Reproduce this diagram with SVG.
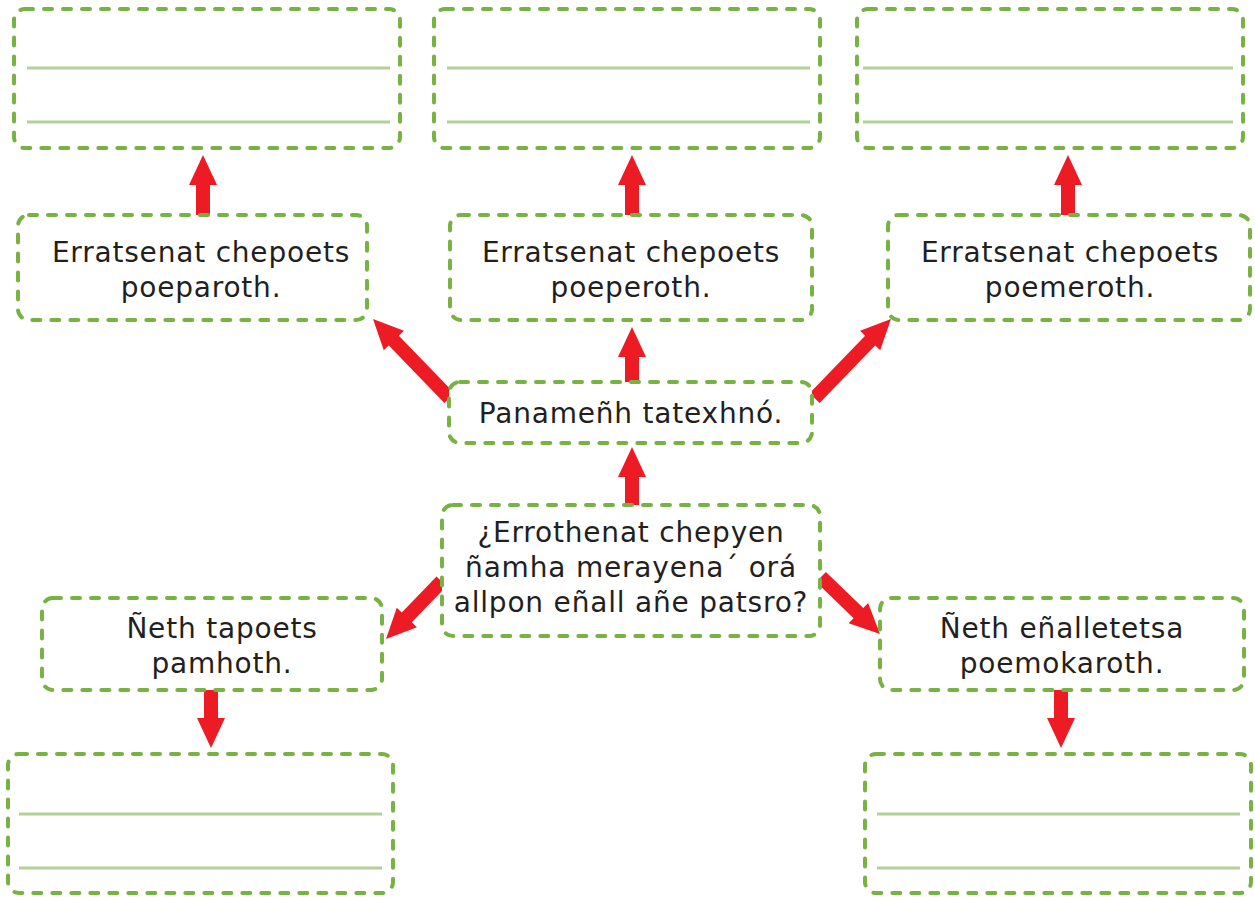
<svg xmlns="http://www.w3.org/2000/svg" width="1255" height="897" viewBox="0 0 1255 897">
<style>
.box{fill:#ffffff;stroke:#77b243;stroke-width:4;stroke-dasharray:8 11;stroke-linecap:round;}
.rule{stroke:#b3d197;stroke-width:3;}
.arr{fill:#ed1c24;}
.t{font-family:"DejaVu Sans",sans-serif;font-size:28px;fill:#231f20;text-anchor:middle;letter-spacing:0.8px;}
</style>
<rect width="1255" height="897" fill="#ffffff"/>
<g id="connectors">
<path class="arr" transform="translate(203,155)" d="M0,0 L14,30 L7,30 L7,60 L-7,60 L-7,30 L-14,30 Z"/>
<path class="arr" transform="translate(632,155)" d="M0,0 L14,30 L7,30 L7,60 L-7,60 L-7,30 L-14,30 Z"/>
<path class="arr" transform="translate(1068,155)" d="M0,0 L14,30 L7,30 L7,60 L-7,60 L-7,30 L-14,30 Z"/>
<path class="arr" transform="translate(632,327)" d="M0,0 L14,30 L7,30 L7,56 L-7,56 L-7,30 L-14,30 Z"/>
<path class="arr" transform="translate(632,447)" d="M0,0 L14,30 L7,30 L7,59 L-7,59 L-7,30 L-14,30 Z"/>
<path class="arr" transform="translate(211,748) rotate(180)" d="M0,0 L14,30 L7,30 L7,59 L-7,59 L-7,30 L-14,30 Z"/>
<path class="arr" transform="translate(1061,748) rotate(180)" d="M0,0 L14,30 L7,30 L7,59 L-7,59 L-7,30 L-14,30 Z"/>
<path class="arr" transform="translate(373,319) rotate(-44)" d="M0,0 L14,30 L7,30 L7,110 L-7,110 L-7,30 L-14,30 Z"/>
<path class="arr" transform="translate(891,319) rotate(44)" d="M0,0 L14,30 L7,30 L7,110 L-7,110 L-7,30 L-14,30 Z"/>
<path class="arr" transform="translate(386,639) rotate(-136)" d="M0,0 L14,30 L7,30 L7,80 L-7,80 L-7,30 L-14,30 Z"/>
<path class="arr" transform="translate(880,634) rotate(134)" d="M0,0 L14,30 L7,30 L7,82 L-7,82 L-7,30 L-14,30 Z"/>
</g>
<g id="answer-tl">
<rect class="box" x="14" y="9" width="386" height="139" rx="11"/>
<line class="rule" x1="27" y1="68" x2="390" y2="68"/>
<line class="rule" x1="27" y1="122" x2="390" y2="122"/>
</g>
<g id="answer-tc">
<rect class="box" x="434" y="9" width="386" height="139" rx="11"/>
<line class="rule" x1="447" y1="68" x2="810" y2="68"/>
<line class="rule" x1="447" y1="122" x2="810" y2="122"/>
</g>
<g id="answer-tr">
<rect class="box" x="857" y="9" width="386" height="139" rx="11"/>
<line class="rule" x1="863" y1="68" x2="1233" y2="68"/>
<line class="rule" x1="863" y1="122" x2="1233" y2="122"/>
</g>
<g id="node-left">
<rect class="box" x="18" y="215" width="349" height="105" rx="11"/>
<text class="t" x="201" y="262">Erratsenat chepoets</text>
<text class="t" x="201" y="297">poeparoth.</text>
</g>
<g id="node-center">
<rect class="box" x="450" y="215" width="362" height="105" rx="11"/>
<text class="t" x="631" y="262">Erratsenat chepoets</text>
<text class="t" x="631" y="297">poeperoth.</text>
</g>
<g id="node-right">
<rect class="box" x="888" y="215" width="362" height="105" rx="11"/>
<text class="t" x="1070" y="262">Erratsenat chepoets</text>
<text class="t" x="1070" y="297">poemeroth.</text>
</g>
<g id="node-panamenh">
<rect class="box" x="449" y="382" width="363" height="61" rx="11"/>
<text class="t" x="631" y="423">Panameñh tatexhnó.</text>
</g>
<g id="node-question">
<rect class="box" x="442" y="505" width="378" height="131" rx="11"/>
<text class="t" x="631" y="542">¿Errothenat chepyen</text>
<text class="t" x="631" y="577">ñamha merayena´ orá</text>
<text class="t" x="631" y="612">allpon eñall añe patsro?</text>
</g>
<g id="node-bl">
<rect class="box" x="42" y="598" width="340" height="92" rx="11"/>
<text class="t" x="222" y="638">Ñeth tapoets</text>
<text class="t" x="222" y="673">pamhoth.</text>
</g>
<g id="node-br">
<rect class="box" x="880" y="598" width="364" height="92" rx="11"/>
<text class="t" x="1062" y="638">Ñeth eñalletetsa</text>
<text class="t" x="1062" y="673">poemokaroth.</text>
</g>
<g id="answer-bl">
<rect class="box" x="8" y="754" width="385" height="139" rx="11"/>
<line class="rule" x1="19" y1="814" x2="382" y2="814"/>
<line class="rule" x1="19" y1="868" x2="382" y2="868"/>
</g>
<g id="answer-br">
<rect class="box" x="865" y="754" width="386" height="139" rx="11"/>
<line class="rule" x1="877" y1="814" x2="1240" y2="814"/>
<line class="rule" x1="877" y1="868" x2="1240" y2="868"/>
</g>
</svg>
